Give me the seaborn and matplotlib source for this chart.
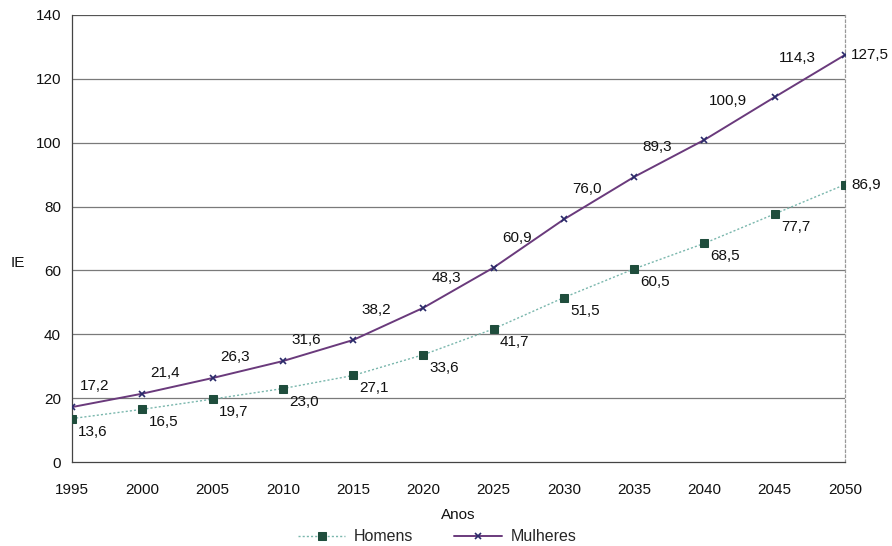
import matplotlib
matplotlib.use("Agg")
import matplotlib.pyplot as plt
import seaborn as sns
import pandas as pd

anos = [1995, 2000, 2005, 2010, 2015, 2020, 2025, 2030, 2035, 2040, 2045, 2050]
homens = [13.6, 16.5, 19.7, 23.0, 27.1, 33.6, 41.7, 51.5, 60.5, 68.5, 77.7, 86.9]
mulheres = [17.2, 21.4, 26.3, 31.6, 38.2, 48.3, 60.9, 76.0, 89.3, 100.9, 114.3, 127.5]
y_ticks = [0, 20, 40, 60, 80, 100, 120, 140]

df_h = pd.DataFrame({"Anos": anos, "IE": homens})
df_m = pd.DataFrame({"Anos": anos, "IE": mulheres})

sns.set_theme(style="white")
plt.rcParams["font.family"] = ["Liberation Sans", "DejaVu Sans"]

fig = plt.figure(figsize=(8.92, 5.46), dpi=100)
ax = fig.add_axes([72 / 892, 1 - 462 / 546, (845 - 72) / 892, (462 - 15) / 546])

# horizontal grid lines
for v in y_ticks[1:]:
    ax.axhline(v, color="#7a7a7a" if v < 140 else "#555555", lw=0.9, zorder=0)

sns.lineplot(data=df_h, x="Anos", y="IE", ax=ax, color="#7ab7ad", lw=1.0,
             linestyle=(0, (1.5, 1.5)), marker="s", markersize=6,
             markerfacecolor="#1f4d3c", markeredgecolor="#1f4d3c", label="Homens",
             zorder=3)
sns.lineplot(data=df_m, x="Anos", y="IE", ax=ax, color="#6a3a7c", lw=1.4,
             marker="x", markersize=5, markeredgewidth=1.2,
             markeredgecolor="#2a2a6a", label="Mulheres", zorder=3)

fs = 11
fmt = lambda v: f"{v:.1f}".replace(".", ",")
n = len(anos)
for i, (a, h, m) in enumerate(zip(anos, homens, mulheres)):
    if i == n - 1:
        ax.annotate(fmt(m), (a, m), xytext=(6, 0), textcoords="offset pixels",
                    ha="left", va="center", fontsize=fs, color="#111111",
                    annotation_clip=False)
        ax.annotate(fmt(h), (a, h), xytext=(6, 0), textcoords="offset pixels",
                    ha="left", va="center", fontsize=fs, color="#111111",
                    annotation_clip=False)
    else:
        dy = 21 if i < 4 else (30 if i < 9 else 39)
        ax.annotate(fmt(m), (a, m), xytext=(23, dy), textcoords="offset pixels",
                    ha="center", va="center", fontsize=fs, color="#111111")
        ax.annotate(fmt(h), (a, h), xytext=(21, -13), textcoords="offset pixels",
                    ha="center", va="center", fontsize=fs, color="#111111")

ax.set_xlim(1995, 2050)
ax.set_ylim(0, 140)
ax.set_xticks(anos)
ax.set_yticks(y_ticks)
ax.tick_params(axis="x", direction="inout", length=8, width=0.9, colors="#333333",
               labelsize=fs, labelcolor="#111111", pad=11)
ax.tick_params(axis="y", direction="out", length=5, width=0.9, colors="#333333",
               labelsize=fs, labelcolor="#111111", pad=3)

ax.spines["top"].set_visible(False)
ax.spines["left"].set_color("#444444")
ax.spines["bottom"].set_color("#444444")
ax.spines["right"].set_color("#999999")
ax.spines["right"].set_linestyle((0, (2, 2)))
for s in ["left", "bottom", "right"]:
    ax.spines[s].set_linewidth(0.9)

ax.set_xlabel("Anos", fontsize=fs, color="#111111", labelpad=8)
ax.set_ylabel("IE", fontsize=fs, color="#111111", rotation=0, labelpad=12)
ax.yaxis.set_label_coords(-0.07, 0.43)

ax.legend(loc="upper center", bbox_to_anchor=(0.472, -0.118), ncol=2, frameon=False,
          fontsize=11.5, handlelength=3, columnspacing=2.6, handletextpad=0.5)

fig.savefig("out.png", dpi=100, facecolor="white")
